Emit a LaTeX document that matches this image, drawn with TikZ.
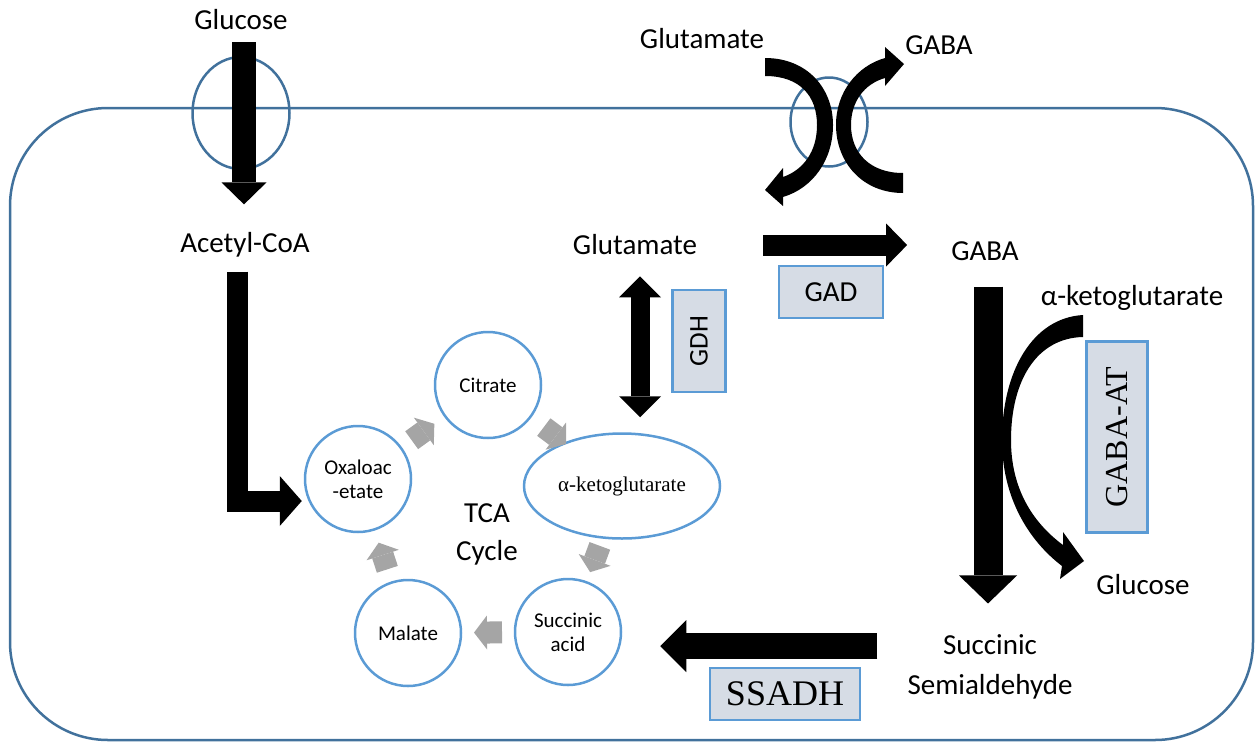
\documentclass[tikz,border=0pt]{standalone}
\usepackage{fontspec}
\setmainfont{Carlito}
\newfontfamily\serifface{Liberation Serif}
\usetikzlibrary{arrows.meta, shapes.geometric, calc}
\definecolor{membrane_blue}{HTML}{41719C}
\definecolor{ring_blue}{HTML}{5B9BD5}
\definecolor{enzyme_fill}{HTML}{D6DCE5}
\definecolor{cycle_gray}{HTML}{A5A5A5}

\begin{document}
\begin{tikzpicture}[x=1pt, y=-1pt, every node/.style={inner sep=0pt},
    metab/.style={align=center, font=\fontsize{29}{38}\selectfont},
    ring/.style={circle, draw=ring_blue, line width=2.5pt, minimum size=106pt,
      align=center, font=\fontsize{21}{24}\selectfont},
    enzyme/.style={draw=ring_blue, fill=enzyme_fill, line width=2.5pt},
    porter/.style={ellipse, draw=membrane_blue, line width=2.5pt},
    block/.style n args={3}{line width=#1,
      -{Triangle[width=#2, length=#3, line width=0pt]}},
    dblock/.style n args={3}{line width=#1,
      {Triangle[width=#2, length=#3, line width=0pt]}-{Triangle[width=#2, length=#3, line width=0pt]}},
    cyc/.style={cycle_gray, line width=22pt,
      -{Triangle[width=34pt, length=13pt, line width=0pt]}}]

    \useasboundingbox (0,0) rectangle (1255,742);

    % cell membrane and the two carriers
    \draw[membrane_blue, line width=2.5pt, rounded corners=98pt] (10,108) rectangle (1253,740);
    \node[porter, minimum width=97pt, minimum height=112pt] (glut) at (241,113) {};
    \node[porter, minimum width=77pt, minimum height=89pt] (anti) at (829,122) {};

    % metabolites
    \node[metab] (glcout) at (241,20) {Glucose};
    \node[metab] (gluout) at (702,39) {Glutamate};
    \node[metab] (gabaout) at (939,45) {GABA};
    \node[metab] (acoa) at (245,245) {Acetyl-CoA};
    \node[metab] (gluin) at (635,245) {Glutamate};
    \node[metab] (gabain) at (985,251) {GABA};
    \node[metab] (akgout) at (1132,298) {α-ketoglutarate};
    \node[metab] (glcin) at (1143,585) {Glucose};
    \node[metab, font=\fontsize{29}{40}\selectfont] (ssa) at (990,667) {Succinic\\Semialdehyde};

    % TCA cycle
    \node[ring] (oxa) at (358,479) {Oxaloac\\-etate};
    \node[ring] (cit) at (488,385) {Citrate};
    \node[ellipse, draw=ring_blue, line width=2.5pt, minimum width=196pt, minimum height=105pt,
      font=\serifface\fontsize{21}{24}\selectfont] (akg) at (622,486) {α-ketoglutarate};
    \node[ring] (suc) at (568,632) {Succinic\\acid};
    \node[ring] (mal) at (408,633) {Malate};
    \node[metab] (tca) at (487,534) {TCA\\Cycle};

    \foreach \a/\b in {oxa/cit, cit/akg, akg/suc, suc/mal, mal/oxa}
      \draw[cyc] ($(\a)!0.5!(\b)!-14pt!(\b)$) -- ($(\a)!0.5!(\b)!14pt!(\b)$);

    % enzymes
    \node[enzyme, minimum width=104pt, minimum height=52pt, font=\fontsize{29}{34}\selectfont]
      (gad) at (831,292) {GAD};
    \node[enzyme, minimum width=53pt, minimum height=102pt, font=\fontsize{27}{32}\selectfont]
      (gdh) at (699,341) {\rotatebox{90}{GDH}};
    \node[enzyme, minimum width=61pt, minimum height=191pt, font=\serifface\fontsize{32}{36}\selectfont]
      (gabaat) at (1117,437) {\rotatebox{90}{GABA-AT}};
    \node[enzyme, minimum width=150pt, minimum height=52pt, font=\serifface\fontsize{36}{40}\selectfont]
      (ssadh) at (785,694) {SSADH};

    % reactions
    \draw[block={24pt}{45pt}{22pt}, shorten <=12pt, shorten >=28pt]
      ([xshift=3pt]glcout.south) -- ([xshift=3pt]glcout.south |- acoa.north);
    \draw[block={21pt}{50pt}{22pt}, shorten <=14pt, shorten >=2pt]
      ([xshift=-8pt]acoa.south) |- ([yshift=-22pt]oxa.west);
    \draw[block={21pt}{43pt}{21pt}, shorten <=66pt, shorten >=44pt]
      (gluin.east) -- (gluin.east -| gabain.west);
    \draw[dblock={19pt}{42pt}{21pt}, shorten <=21pt, shorten >=15pt]
      ([xshift=5pt]gluin.south) -- ([xshift=5pt]gluin.south |- akg.north);
    \draw[block={29pt}{58pt}{28pt}, shorten <=26pt, shorten >=31pt]
      ([xshift=3pt]gabain.south) -- ([xshift=3pt]gabain.south |- ssa.north);
    \draw[block={26pt}{52pt}{26pt}, shorten <=30pt, shorten >=38pt]
      ([yshift=21pt]ssa.west) -- ([yshift=21pt]ssa.west -| suc.east);

    % curved arrows of the antiporter and of the transamination
    \fill (765,58) .. controls (807,58) and (833,88) .. (833,125)
      .. controls (833,160) and (813,188) .. (783,197)
      -- (783,206) -- (765,190) -- (783,168) -- (783,177)
      .. controls (803,170) and (817,152) .. (817,125)
      .. controls (817,96) and (800,76) .. (765,76) -- cycle;
    \fill (903,193) .. controls (863,193) and (836,163) .. (836,125)
      .. controls (836,92) and (857,66) .. (885,58)
      -- (885,47) -- (904,64) -- (885,86) -- (885,78)
      .. controls (864,84) and (851,102) .. (851,125)
      .. controls (851,153) and (870,173) .. (903,173) -- cycle;
    \fill (1083,315) .. controls (1032,318) and (1002,372) .. (1002,440)
      .. controls (1002,497) and (1028,540) .. (1062,566)
      -- (1060,579) -- (1084,561) -- (1063,532) -- (1063,545)
      .. controls (1032,522) and (1011,488) .. (1011,440)
      .. controls (1011,380) and (1037,338) .. (1083,337) -- cycle;

\end{tikzpicture}
\end{document}
